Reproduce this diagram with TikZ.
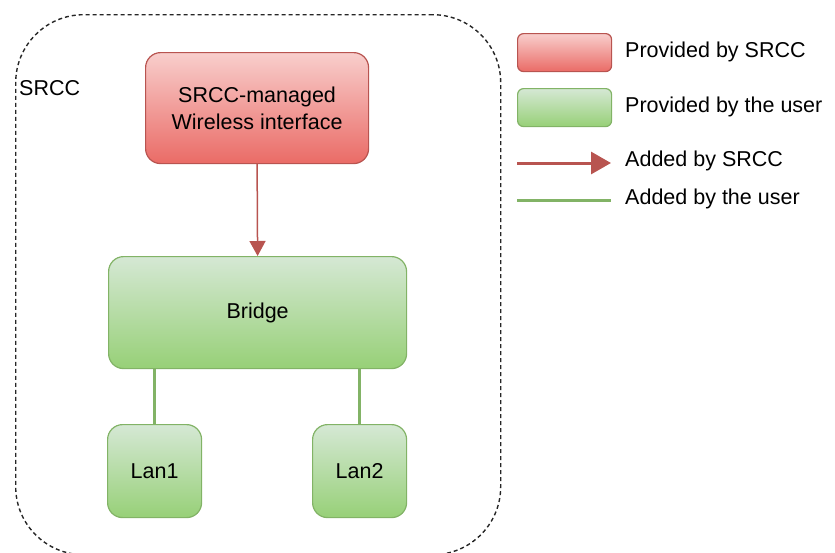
\documentclass[tikz,border=0pt]{standalone}
\usepackage{fontspec}
\setmainfont{Liberation Sans}
\usetikzlibrary{arrows.meta}
\definecolor{redtop}{HTML}{F8CECC}
\definecolor{redbot}{HTML}{EA6B66}
\definecolor{redline}{HTML}{B85450}
\definecolor{greentop}{HTML}{D5E8D4}
\definecolor{greenbot}{HTML}{97D077}
\definecolor{greenline}{HTML}{82B366}
\tikzset{
  redbox/.style={draw=redline, line width=1.2pt, rounded corners=15pt, top color=redtop, bottom color=redbot, anchor=north west, inner sep=0pt, align=center, font=\fontsize{21.5}{27}\selectfont},
  greenbox/.style={draw=greenline, line width=1.2pt, rounded corners=15pt, top color=greentop, bottom color=greenbot, anchor=north west, inner sep=0pt, align=center, font=\fontsize{21.5}{27}\selectfont},
  legbox/.style={draw=#1line, line width=1.2pt, rounded corners=6pt, top color=#1top, bottom color=#1bot, anchor=north west, inner sep=0pt, minimum width=94pt, minimum height=38pt},
  legtext/.style={anchor=west, inner sep=0pt, font=\fontsize{21.5}{24}\selectfont},
  srccarrow/.style={draw=redline, line width=1.5pt, -{Triangle[length=15pt,width=16pt]}},
  bigarrow/.style={draw=redline, line width=3pt, -{Triangle[length=20pt,width=22pt]}},
  userline/.style={draw=greenline, line width=3pt},
}
\begin{document}
\begin{tikzpicture}[x=1pt,y=-1pt]
\useasboundingbox (0,0) rectangle (835,552);
% container
\node[draw=black!85, line width=1.4pt, dash pattern=on 4pt off 3pt, rounded corners=68pt, anchor=north west, inner sep=0pt, minimum width=485pt, minimum height=540pt] (cont) at (15,14) {};
\node[anchor=west, inner sep=0pt, font=\fontsize{21.5}{24}\selectfont] (srcclbl) at (19,88) {SRCC};
% main nodes
\node[redbox, minimum width=223pt, minimum height=111pt] (wifi) at (145,52) {SRCC-managed\\Wireless interface};
\node[greenbox, minimum width=298pt, minimum height=112pt] (bridge) at (108,256) {Bridge};
\node[greenbox, minimum width=94pt, minimum height=93pt] (lan1) at (107,424) {Lan1};
\node[greenbox, minimum width=94pt, minimum height=93pt] (lan2) at (312,424) {Lan2};
% connectors
\draw[srccarrow] (wifi.south) -- (bridge.north);
\draw[userline] (lan1.north -| 154,0) -- (bridge.south -| 154,0);
\draw[userline] (lan2.north -| 359,0) -- (bridge.south -| 359,0);
% legend
\node[legbox=red] (lr) at (517,33) {};
\node[legbox=green] (lg) at (517,88) {};
\node[legtext] (tlr) at (625,52) {Provided by SRCC};
\node[legtext] (tlg) at (625,107) {Provided by the user};
\coordinate (a1) at (517,163);
\coordinate (a2) at (611,163);
\draw[bigarrow] (a1) -- (a2);
\node[legtext] (tla) at (625,161) {Added by SRCC};
\coordinate (l1) at (517,200);
\coordinate (l2) at (611,200);
\draw[userline] (l1) -- (l2);
\node[legtext] (tll) at (625,199) {Added by the user};
\end{tikzpicture}
\end{document}
